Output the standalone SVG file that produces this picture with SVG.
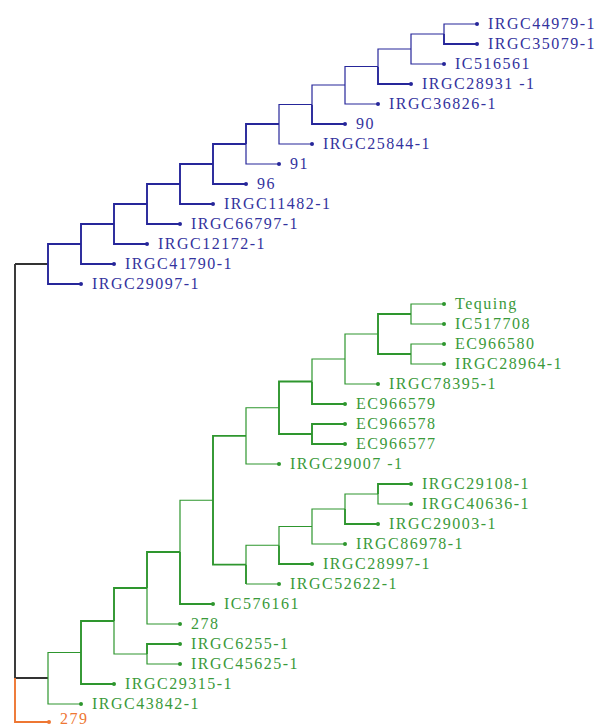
<svg xmlns="http://www.w3.org/2000/svg" width="598" height="728" viewBox="0 0 598 728">
<style>
.e{fill:none;stroke-linejoin:miter;stroke-linecap:butt}
.b{stroke:#26269a}
.g{stroke:#2e962e}
.k{stroke:#333}
.o{stroke:#ee7733}
.t{stroke-width:1.2}
.w{stroke-width:1.9}
.lb text{font-family:"Liberation Serif","Times New Roman",serif;font-size:16px;letter-spacing:1.5px}
.bt{fill:#33339e}
.gt{fill:#3a9a3a}
.ot{fill:#ee7733}
.bd{fill:#26269a}
.gd{fill:#2e962e}
.od{fill:#ee7733}
</style>
<rect width="598" height="728" fill="#fff"/>
<g id="connectors">
<path class="e k w" d="M15 264V678M15 264H48M15 678H48"/>
<path class="e o w" d="M15 678V722H48"/>
<path class="e b w" d="M48 264V244H81M48 264V284H81"/>
<path class="e b w" d="M81 244V224H114M81 244V264H114"/>
<path class="e b w" d="M114 224V204H147M114 224V244H147"/>
<path class="e b w" d="M147 204V184H180M147 204V224H180"/>
<path class="e b w" d="M180 184V164H213M180 184V204H213"/>
<path class="e b w" d="M213 164V144H246M213 164V184H246"/>
<path class="e b w" d="M246 144V124H279"/>
<path class="e b t" d="M246 144V164H279"/>
<path class="e b t" d="M279 124V104.5H312M279 124V144H312"/>
<path class="e b t" d="M312 104.5V85H345"/>
<path class="e b w" d="M312 104.5V124H345"/>
<path class="e b t" d="M345 85V66.5H378M345 85V104H378"/>
<path class="e b t" d="M378 66.5V49H411"/>
<path class="e b w" d="M378 66.5V84H411"/>
<path class="e b t" d="M411 49V34H444M411 49V64H444"/>
<path class="e b t" d="M444 34V24H477"/>
<path class="e b w" d="M444 34V44H477"/>
<path class="e g t" d="M48 678V652.5H81M48 678V704H81"/>
<path class="e g w" d="M81 652.5V621H114M81 652.5V684H114"/>
<path class="e g w" d="M114 621V588H147"/>
<path class="e g t" d="M114 621V654H147"/>
<path class="e g w" d="M147 654V644H180"/>
<path class="e g t" d="M147 654V664H180"/>
<path class="e g w" d="M147 588V552H180"/>
<path class="e g t" d="M147 588V624H180"/>
<path class="e g t" d="M180 552V500.25H213"/>
<path class="e g w" d="M180 552V604H213"/>
<path class="e g w" d="M213 500.25V435.9H246M213 500.25V564.6H246"/>
<path class="e g t" d="M246 435.9V407.75H279M246 435.9V464H279"/>
<path class="e g w" d="M279 407.75V381.5H312M279 407.75V434H312"/>
<path class="e g w" d="M312 434V424H345M312 434V444H345"/>
<path class="e g w" d="M312 381.5V404H345"/>
<path class="e g t" d="M312 381.5V359H345"/>
<path class="e g t" d="M345 359V334H378M345 359V384H378"/>
<path class="e g w" d="M378 334V314H411M378 334V354H411"/>
<path class="e g t" d="M411 314V304H444M411 314V324H444"/>
<path class="e g t" d="M411 354V344H444M411 354V364H444"/>
<path class="e g t" d="M246 564.6V545.25H279M246 584H279"/>
<path class="e g w" d="M246 564.6V584"/>
<path class="e g t" d="M279 545.25V526.5H312"/>
<path class="e g w" d="M279 545.25V564H312"/>
<path class="e g t" d="M312 526.5V509H345M312 526.5V544H345"/>
<path class="e g t" d="M345 509V494H378"/>
<path class="e g w" d="M345 509V524H378"/>
<path class="e g w" d="M378 494V484H411"/>
<path class="e g t" d="M378 494V504H411"/>
</g>
<g id="blue-leaves" class="lb">
<g id="n-IRGC44979-1"><circle class="bd" cx="477" cy="24" r="2"/><text class="bt" x="488" y="29">IRGC44979-1</text></g>
<g id="n-IRGC35079-1"><circle class="bd" cx="477" cy="44" r="2"/><text class="bt" x="488" y="49">IRGC35079-1</text></g>
<g id="n-IC516561"><circle class="bd" cx="444" cy="64" r="2"/><text class="bt" x="455" y="69">IC516561</text></g>
<g id="n-IRGC28931-1"><circle class="bd" cx="411" cy="84" r="2"/><text class="bt" x="422" y="89">IRGC28931 -1</text></g>
<g id="n-IRGC36826-1"><circle class="bd" cx="378" cy="104" r="2"/><text class="bt" x="389" y="109">IRGC36826-1</text></g>
<g id="n-90"><circle class="bd" cx="345" cy="124" r="2"/><text class="bt" x="356" y="129">90</text></g>
<g id="n-IRGC25844-1"><circle class="bd" cx="312" cy="144" r="2"/><text class="bt" x="323" y="149">IRGC25844-1</text></g>
<g id="n-91"><circle class="bd" cx="279" cy="164" r="2"/><text class="bt" x="290" y="169">91</text></g>
<g id="n-96"><circle class="bd" cx="246" cy="184" r="2"/><text class="bt" x="257" y="189">96</text></g>
<g id="n-IRGC11482-1"><circle class="bd" cx="213" cy="204" r="2"/><text class="bt" x="224" y="209">IRGC11482-1</text></g>
<g id="n-IRGC66797-1"><circle class="bd" cx="180" cy="224" r="2"/><text class="bt" x="191" y="229">IRGC66797-1</text></g>
<g id="n-IRGC12172-1"><circle class="bd" cx="147" cy="244" r="2"/><text class="bt" x="158" y="249">IRGC12172-1</text></g>
<g id="n-IRGC41790-1"><circle class="bd" cx="114" cy="264" r="2"/><text class="bt" x="125" y="269">IRGC41790-1</text></g>
<g id="n-IRGC29097-1"><circle class="bd" cx="81" cy="284" r="2"/><text class="bt" x="92" y="289">IRGC29097-1</text></g>
</g>
<g id="green-leaves" class="lb">
<g id="n-Tequing"><circle class="gd" cx="444" cy="304" r="2"/><text class="gt" x="455" y="309">Tequing</text></g>
<g id="n-IC517708"><circle class="gd" cx="444" cy="324" r="2"/><text class="gt" x="455" y="329">IC517708</text></g>
<g id="n-EC966580"><circle class="gd" cx="444" cy="344" r="2"/><text class="gt" x="455" y="349">EC966580</text></g>
<g id="n-IRGC28964-1"><circle class="gd" cx="444" cy="364" r="2"/><text class="gt" x="455" y="369">IRGC28964-1</text></g>
<g id="n-IRGC78395-1"><circle class="gd" cx="378" cy="384" r="2"/><text class="gt" x="389" y="389">IRGC78395-1</text></g>
<g id="n-EC966579"><circle class="gd" cx="345" cy="404" r="2"/><text class="gt" x="356" y="409">EC966579</text></g>
<g id="n-EC966578"><circle class="gd" cx="345" cy="424" r="2"/><text class="gt" x="356" y="429">EC966578</text></g>
<g id="n-EC966577"><circle class="gd" cx="345" cy="444" r="2"/><text class="gt" x="356" y="449">EC966577</text></g>
<g id="n-IRGC29007-1"><circle class="gd" cx="279" cy="464" r="2"/><text class="gt" x="290" y="469">IRGC29007 -1</text></g>
<g id="n-IRGC29108-1"><circle class="gd" cx="411" cy="484" r="2"/><text class="gt" x="422" y="489">IRGC29108-1</text></g>
<g id="n-IRGC40636-1"><circle class="gd" cx="411" cy="504" r="2"/><text class="gt" x="422" y="509">IRGC40636-1</text></g>
<g id="n-IRGC29003-1"><circle class="gd" cx="378" cy="524" r="2"/><text class="gt" x="389" y="529">IRGC29003-1</text></g>
<g id="n-IRGC86978-1"><circle class="gd" cx="345" cy="544" r="2"/><text class="gt" x="356" y="549">IRGC86978-1</text></g>
<g id="n-IRGC28997-1"><circle class="gd" cx="312" cy="564" r="2"/><text class="gt" x="323" y="569">IRGC28997-1</text></g>
<g id="n-IRGC52622-1"><circle class="gd" cx="279" cy="584" r="2"/><text class="gt" x="290" y="589">IRGC52622-1</text></g>
<g id="n-IC576161"><circle class="gd" cx="213" cy="604" r="2"/><text class="gt" x="224" y="609">IC576161</text></g>
<g id="n-278"><circle class="gd" cx="180" cy="624" r="2"/><text class="gt" x="191" y="629">278</text></g>
<g id="n-IRGC6255-1"><circle class="gd" cx="180" cy="644" r="2"/><text class="gt" x="191" y="649">IRGC6255-1</text></g>
<g id="n-IRGC45625-1"><circle class="gd" cx="180" cy="664" r="2"/><text class="gt" x="191" y="669">IRGC45625-1</text></g>
<g id="n-IRGC29315-1"><circle class="gd" cx="114" cy="684" r="2"/><text class="gt" x="125" y="689">IRGC29315-1</text></g>
<g id="n-IRGC43842-1"><circle class="gd" cx="81" cy="704" r="2"/><text class="gt" x="92" y="709">IRGC43842-1</text></g>
</g>
<g id="orange-leaf" class="lb">
<g id="n-279"><circle class="od" cx="49" cy="722" r="2"/><text class="ot" x="60" y="724">279</text></g>
</g>
</svg>
